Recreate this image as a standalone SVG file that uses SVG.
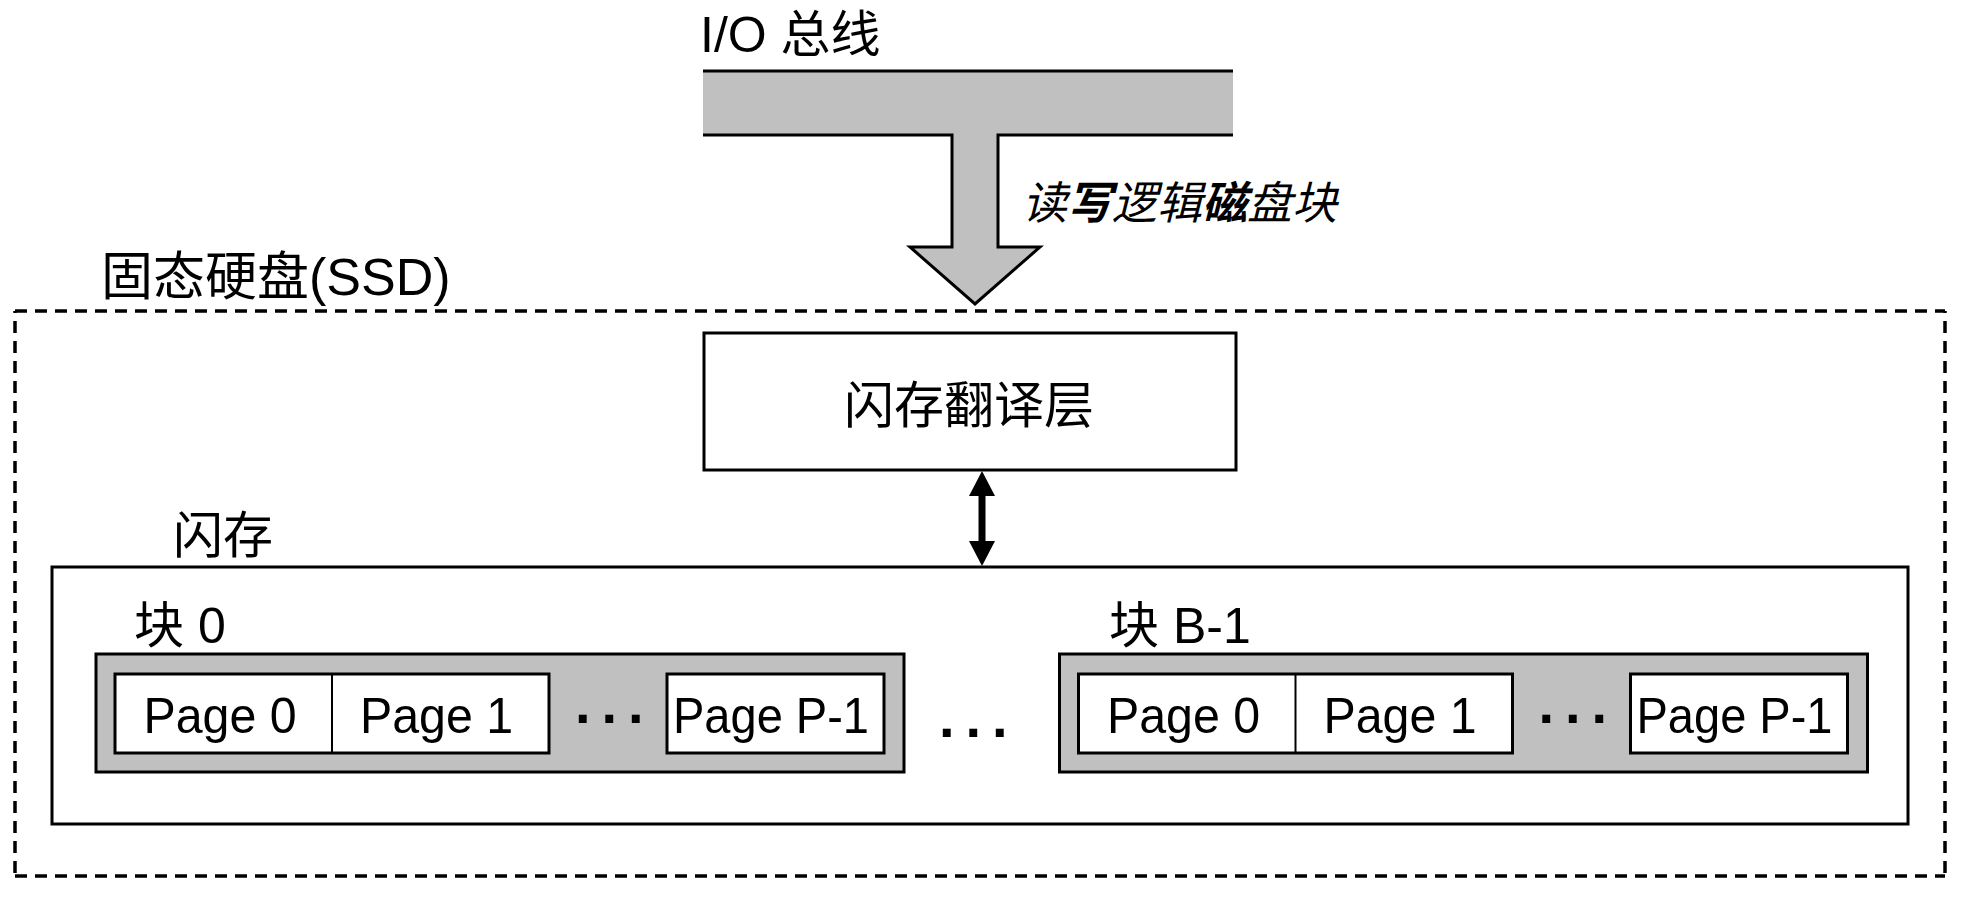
<svg xmlns="http://www.w3.org/2000/svg" width="1966" height="914" viewBox="0 0 1966 914">
<style>
.t{font-family:'Liberation Sans','Noto Sans CJK SC',sans-serif;fill:#000}
.box{fill:#fff;stroke:#000;stroke-width:3}
.gray{fill:#C0C0C0;stroke:#000;stroke-width:3}
.dash{stroke:#000;stroke-width:3.5;fill:none;stroke-dasharray:12 8}
.pg{font-size:50px}
.dots{font-size:56px;font-weight:bold;letter-spacing:11px}
</style>
<rect width="1966" height="914" fill="#fff"/>

<g id="io-bus">
<polygon points="703,71 1233,71 1233,135 998,135 998,247 1040,247 975,304 910,247 952,247 952,135 703,135" fill="#C0C0C0"/>
<path d="M703,71 H1233 M703,135 H952 V247 H910 L975,304 L1040,247 H998 V135 H1233" fill="none" stroke="#000" stroke-width="3" stroke-linejoin="miter"/>
<text class="t" x="700" y="52" font-size="50">I/O 总线</text>
<text class="t" x="1022" y="219" font-size="45" font-style="italic">读<tspan font-weight="bold">写</tspan>逻辑<tspan font-weight="bold">磁</tspan>盘块</text>
</g>

<g id="ssd">
<line class="dash" x1="15" y1="311" x2="1945" y2="311"/>
<line class="dash" x1="15" y1="876" x2="1945" y2="876"/>
<line class="dash" x1="15" y1="311" x2="15" y2="876" stroke-dashoffset="10"/>
<line class="dash" x1="1945" y1="311" x2="1945" y2="876" stroke-dashoffset="10"/>
<text class="t" x="101" y="295" font-size="52">固态硬盘(SSD)</text>
</g>

<g id="ftl">
<rect class="box" x="704" y="333" width="532" height="137"/>
<text class="t" x="969" y="423" font-size="50" text-anchor="middle">闪存翻译层</text>
</g>

<g id="connectors">
<line x1="982" y1="492" x2="982" y2="545" stroke="#000" stroke-width="7"/>
<polygon points="982,471 969,496 995,496" fill="#000"/>
<polygon points="982,566 969,541 995,541" fill="#000"/>
</g>

<g id="flash">
<rect class="box" x="52" y="567" width="1856" height="257"/>
<text class="t" x="173" y="553" font-size="50">闪存</text>
<text class="t dots" x="939" y="737">...</text>
</g>

<g id="block-0">
<text class="t" x="134" y="643" font-size="50">块 0</text>
<rect class="gray" x="96" y="654" width="808" height="118"/>
<rect class="box" x="115" y="674" width="434" height="79"/>
<line x1="332" y1="674" x2="332" y2="753" stroke="#000" stroke-width="2"/>
<rect class="box" x="667" y="674" width="217" height="79"/>
<text class="t pg" x="143.5" y="733" textLength="153" lengthAdjust="spacingAndGlyphs">Page 0</text>
<text class="t pg" x="360" y="733" textLength="153" lengthAdjust="spacingAndGlyphs">Page 1</text>
<text class="t pg" x="673" y="733" textLength="196" lengthAdjust="spacingAndGlyphs">Page P-1</text>
<text class="t dots" x="575" y="723">...</text>
</g>

<g id="block-b-1">
<text class="t" x="1109" y="643" font-size="50">块 B-1</text>
<rect class="gray" x="1059.5" y="654" width="808" height="118"/>
<rect class="box" x="1078.5" y="674" width="434" height="79"/>
<line x1="1295.5" y1="674" x2="1295.5" y2="753" stroke="#000" stroke-width="2"/>
<rect class="box" x="1630.5" y="674" width="217" height="79"/>
<text class="t pg" x="1107" y="733" textLength="153" lengthAdjust="spacingAndGlyphs">Page 0</text>
<text class="t pg" x="1323.5" y="733" textLength="153" lengthAdjust="spacingAndGlyphs">Page 1</text>
<text class="t pg" x="1636.5" y="733" textLength="196" lengthAdjust="spacingAndGlyphs">Page P-1</text>
<text class="t dots" x="1538.5" y="723">...</text>
</g>
</svg>
